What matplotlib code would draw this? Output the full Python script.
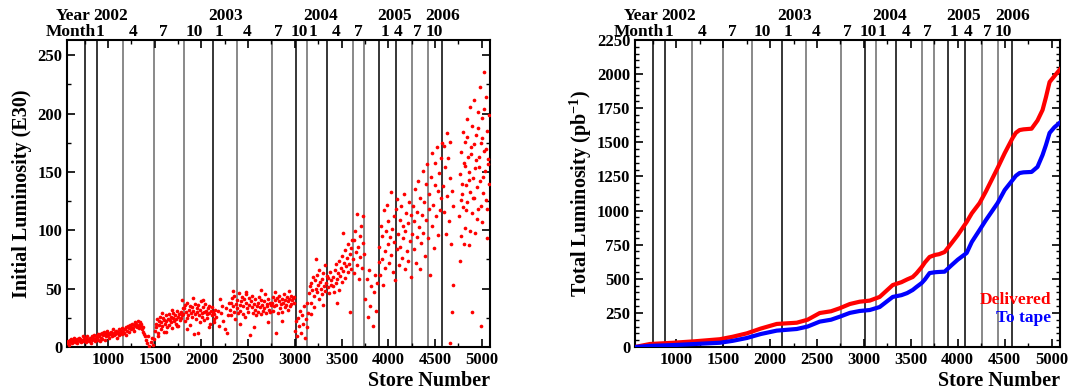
import numpy as np
import matplotlib.pyplot as plt
from matplotlib.ticker import MultipleLocator

plt.rcParams['font.family'] = 'Liberation Serif'
plt.rcParams['font.weight'] = 'bold'
plt.rcParams['mathtext.fontset'] = 'custom'
plt.rcParams['mathtext.rm'] = 'Liberation Serif:bold'
plt.rcParams['mathtext.it'] = 'Liberation Serif:bold'
plt.rcParams['mathtext.bf'] = 'Liberation Serif:bold'

# ---- initial luminosity per store ----
store = [
    565, 572, 580, 588, 596, 603, 611, 618, 626, 634, 641, 649, 657, 664, 672, 680, 687, 695, 703, 710, 718, 726,
    733, 741, 749, 756, 764, 772, 779, 787, 795, 802, 810, 818, 825, 833, 841, 848, 856, 864, 871, 879, 887, 894,
    902, 910, 917, 925, 932, 940, 948, 955, 963, 970, 978, 986, 993, 1001, 1008, 1016, 1024, 1031, 1039, 1046,
    1054, 1062, 1069, 1077, 1084, 1092, 1100, 1107, 1115, 1122, 1130, 1138, 1145, 1153, 1160, 1168,
    1175, 1182, 1190, 1197, 1205, 1212, 1220, 1228, 1235, 1243, 1250, 1258, 1265, 1273, 1281, 1288, 1296, 1303,
    1311, 1319, 1326, 1334, 1341, 1349, 1356, 1364, 1372, 1379, 1387, 1394,
    1405, 1418, 1430, 1442, 1455, 1467, 1478, 1490,
    1503, 1510, 1518, 1525, 1533, 1540, 1548, 1556, 1563, 1571, 1578, 1586, 1594, 1601, 1609, 1616, 1624, 1632,
    1639, 1647, 1654, 1662, 1670, 1677, 1685, 1692, 1700, 1708, 1715, 1723, 1730, 1738, 1746, 1753, 1761, 1768,
    1776, 1784, 1791, 1799,
    1805, 1812, 1820, 1827, 1835, 1842, 1850, 1858, 1865, 1873, 1880, 1888, 1895, 1903, 1911, 1918, 1926, 1933,
    1941, 1949, 1956, 1964, 1971, 1979, 1986, 1994, 2002, 2009, 2017, 2024, 2032, 2040, 2047, 2055, 2062, 2070,
    2078, 2085, 2093, 2100, 2108, 2116, 2123, 2131, 2139, 2146,
    2160, 2175, 2190, 2205, 2220, 2235, 2250, 2265, 2280, 2295,
    2305, 2313, 2321, 2329, 2337, 2345, 2353, 2361, 2369, 2377, 2385, 2393, 2401, 2409, 2417, 2425, 2433, 2441,
    2449, 2457, 2465, 2473, 2481, 2489, 2497, 2505, 2513, 2521, 2529, 2537, 2545, 2553, 2561, 2569, 2577, 2585,
    2593, 2601, 2609, 2617, 2625, 2633, 2641, 2649, 2657, 2665, 2673, 2681, 2689, 2697, 2705, 2713, 2721, 2729,
    2737, 2745,
    2755, 2763, 2771, 2779, 2787, 2795, 2803, 2811, 2819, 2827, 2835, 2843, 2851, 2859, 2867, 2875, 2883, 2891,
    2899, 2907, 2915, 2923, 2931, 2939, 2947, 2955, 2963, 2971, 2979, 2987, 2995,
    3005, 3015, 3025, 3035, 3045, 3055, 3065, 3075, 3085, 3095, 3105, 3115, 3125, 3135, 3145,
    3152, 3160, 3168, 3176, 3184, 3192, 3200, 3208, 3216, 3224, 3232, 3240, 3248, 3256, 3264, 3272, 3280, 3288,
    3296, 3304, 3312, 3320, 3328, 3336, 3344, 3352, 3360, 3368, 3376, 3384, 3392,
    3405, 3413, 3421, 3429, 3437, 3445, 3453, 3461, 3469, 3477, 3485, 3493, 3501, 3509, 3517, 3525, 3533, 3541,
    3549, 3557, 3565, 3573, 3581, 3589, 3597, 3605, 3613,
    3622, 3630, 3638, 3646, 3654, 3662, 3670, 3678, 3686, 3694, 3702, 3710, 3718, 3726, 3734, 3742,
    3755, 3768, 3781, 3794, 3807, 3820, 3833, 3846, 3859, 3872, 3885, 3898,
    3905, 3913, 3921, 3929, 3937, 3945, 3953, 3961, 3969, 3977, 3985, 3993, 4001, 4009, 4017, 4025, 4033, 4041,
    4049, 4057, 4065, 4073, 4081, 4089, 4097, 4105, 4113, 4121, 4129, 4137, 4145, 4153, 4161, 4169, 4177, 4185,
    4193, 4201, 4209, 4217, 4225, 4233, 4241, 4249,
    4257, 4265, 4273, 4281, 4289, 4297, 4305, 4313, 4321, 4329, 4337, 4345, 4353, 4361, 4369, 4377, 4385, 4393,
    4401, 4409, 4417, 4425, 4433, 4441, 4449, 4457, 4465, 4473, 4481, 4489, 4497, 4505, 4513, 4521, 4529, 4537,
    4545, 4553, 4561, 4569, 4577,
    4585, 4593, 4601, 4609, 4617, 4625, 4633, 4641, 4649, 4657, 4665, 4673, 4681, 4689, 4697, 4660, 4680, 4892, 4989,
    4762, 4769, 4776, 4783, 4790, 4797, 4804, 4811, 4818, 4825, 4832, 4839, 4846, 4853, 4860, 4867, 4874, 4881,
    4888, 4895, 4902, 4909, 4916, 4923, 4930, 4937, 4944, 4951, 4958, 4965, 4972, 4979, 4986, 4993, 5000, 5007,
    5014, 5021, 5028, 5035, 5042, 5049, 5056, 5063, 5070, 5077, 5084,
    4765, 4779, 4793, 4807, 4821, 4835, 4849, 4863, 4877, 4891, 4905, 4919, 4933, 4947, 4961, 4975, 4989, 5003,
    5017, 5031, 5045, 5059, 5073,
    1530, 1575, 1620, 1680, 1735, 1790, 1850, 1905, 1960, 2020, 2080, 2135, 2200, 2270, 2340, 2410, 2480, 2560,
    2640, 2710, 2790, 2860, 2940, 3170, 3230, 3300, 3450, 3520, 3590,
]
init_lumi = [
    3, 5, 2, 6, 4, 7, 5, 3, 6, 8, 4, 6, 5, 7, 3, 6, 8, 5, 7, 4, 6, 9,
    5, 7, 8, 6, 4, 7, 9, 6, 5, 8, 7, 3, 9, 6, 8, 10, 7, 5, 9, 8, 6, 11,
    9, 5, 11, 8, 12, 7, 10, 13, 6, 11, 9, 12, 14, 10, 8, 12, 11, 13, 9, 12,
    15, 10, 13, 11, 14, 8, 12, 13, 10, 15, 12, 14, 11, 16, 13, 15,
    12, 15, 10, 17, 14, 18, 13, 16, 19, 15, 17, 20, 16, 14, 19, 21, 18, 20,
    17, 22, 19, 16, 21, 18, 20, 15, 13, 17, 11, 9,
    6, 3, 9, 1, 4, 8, 2, 7,
    14, 20, 17, 24, 12, 22, 19, 26, 15, 21, 18, 25, 23, 13, 20, 27, 22, 17,
    24, 28, 19, 23, 26, 21, 16, 25, 29, 22, 27, 20, 24, 31, 26, 18, 28, 23,
    30, 25, 27, 33,
    28, 33, 22, 36, 30, 25, 38, 27, 32, 35, 19, 29, 34, 26, 31, 11, 37, 28,
    24, 33, 30, 36, 27, 21, 32, 39, 29, 26, 34, 30, 23, 37, 31, 28, 25, 33,
    35, 29, 20, 31, 27, 34, 30, 24, 28, 32,
    26, 31, 18, 29, 35, 22, 15, 33, 27, 38,
    32, 38, 27, 42, 35, 30, 44, 24, 37, 40, 33, 29, 46, 36, 31, 39, 43, 28,
    35, 41, 26, 38, 45, 33, 30, 42, 36, 10, 39, 34, 44, 29, 37, 32, 41, 27,
    35, 38, 30, 43, 34, 28, 40, 36, 31, 39, 33, 45, 29, 37, 35, 41, 32, 38,
    30, 36,
    38, 31, 43, 35, 40, 12, 36, 42, 29, 39, 44, 33, 37, 41, 30, 38, 45, 34,
    40, 36, 43, 32, 39, 41, 35, 44, 37, 40, 42, 38, 43,
    14, 22, 9, 25, 18, 31, 12, 27, 20, 35, 8, 24, 17, 38, 29,
    46, 52, 38, 55, 49, 60, 44, 34, 57, 50, 47, 62, 53, 41, 66, 56, 50, 45,
    58, 63, 52, 70, 48, 55, 61, 51, 59, 46, 64, 53, 57,
    52, 60, 47, 66, 55, 71, 58, 63, 49, 74, 61, 68, 56, 78, 65, 72, 59, 83,
    69, 76, 64, 88, 71, 80, 67, 85, 92,
    75, 92, 63, 99, 81, 70, 114, 86, 58, 95, 77, 104, 68, 89, 112, 80,
    41, 58, 26, 66, 35, 52, 18, 47, 62, 31, 55, 73,
    86, 62, 104, 75, 95, 53, 117, 82, 68, 99, 122, 88, 108, 72, 94, 133, 79, 101,
    64, 112, 90, 57, 118, 84, 127, 97, 70, 109, 86, 121, 76, 104, 93, 131, 67, 99,
    115, 82, 106, 74, 124, 91, 113, 60,
    97, 121, 84, 108, 135, 72, 116, 94, 142, 103, 67, 128, 89, 113, 151, 98, 124, 78,
    140, 109, 157, 93, 131, 118, 62, 146, 104, 166, 122, 85, 139, 158, 112, 171, 96, 134,
    149, 117, 162, 128, 175,
    138, 172, 116, 154, 97, 183, 129, 162, 108, 145, 176, 88, 134, 53, 121, 3, 30, 30, 18,
    112, 148, 95, 167, 131, 184, 120, 158, 102, 176, 139, 195, 124, 163, 87, 150, 206, 133,
    171, 115, 189, 145, 128, 212, 98, 160, 182, 137, 201, 118, 154, 223, 142, 175, 107, 196,
    132, 168, 236, 151, 214, 126, 185, 93, 161, 199, 140,
    74, 126, 140, 88, 155, 117, 180, 143, 99, 165, 128, 174, 153, 110, 188, 163, 121, 179,
    146, 204, 170, 118, 157,
    9, 29, 13, 32, 18, 40, 15, 42, 12, 40, 17, 21, 41, 12, 48, 20, 47, 17,
    49, 21, 47, 22, 48, 28, 75, 36, 38, 98, 30,
]

# ---- integrated luminosity (pb^-1) ----
cum_store = [560, 719, 964, 1200, 1464, 1600, 1752, 1900, 2071, 2284, 2400, 2529, 2650, 2742, 2850, 2955,
             3062, 3168, 3307, 3400, 3460, 3520, 3560, 3616, 3650, 3700, 3760, 3800, 3860, 3935, 4000,
             4095, 4150, 4233, 4300, 4380, 4425, 4500, 4585, 4620, 4659, 4700, 4787, 4850, 4904, 4940,
             4979, 5030, 5090]
delivered = [0, 22, 31, 42, 57, 75, 100, 135, 169, 178, 200, 249, 262, 284, 315, 332,
             340, 367, 454, 475, 495, 513, 540, 586, 620, 660, 675, 680, 696, 762, 820,
             916, 980, 1055, 1140, 1250, 1312, 1420, 1532, 1570, 1590, 1595, 1600, 1660, 1737, 1830,
             1942, 1985, 2035]
to_tape = [0, 8, 14, 22, 31, 45, 66, 95, 120, 132, 150, 186, 200, 222, 250, 264,
           271, 293, 367, 380, 395, 418, 440, 469, 495, 542, 548, 550, 552, 600, 640,
           689, 770, 858, 930, 1010, 1055, 1150, 1224, 1255, 1275, 1280, 1283, 1320, 1407, 1480,
           1569, 1610, 1645]

# ---- calendar markers ----
line_stores = [750, 885, 1165, 1495, 1812, 2127, 2385, 2752, 3011, 3129, 3345, 3620, 3743, 3898,
               4080, 4256, 4428, 4577]
line_colors = ['black', 'black', 'dimgray', 'dimgray', 'dimgray', 'black', 'dimgray', 'dimgray', 'black',
               'dimgray', 'black', 'dimgray', 'dimgray', 'black', 'black', 'dimgray', 'dimgray', 'black']
month_pos = [871, 1226, 1548, 1828, 2140, 2441, 2774, 2957, 3150, 3398, 3634, 3914, 4064, 4269, 4398]
month_txt = ['1', '4', '7', '10', '1', '4', '7', '10', '1', '4', '7', '1', '4', '7', '10']
year_pos = [839, 2075, 3086, 3882, 4398]
year_txt = ['2002', '2003', '2004', '2005', '2006']

fig = plt.figure(figsize=(10.73, 3.92), dpi=100)
ax1 = fig.add_axes([67 / 1073, 45 / 392, 423 / 1073, 307 / 392])
ax2 = fig.add_axes([635 / 1073, 45 / 392, 425 / 1073, 307 / 392])


def decorate(ax):
    for s, c in zip(line_stores, line_colors):
        ax.axvline(s, color=c, lw=1.1, zorder=1)
    tr = ax.get_xaxis_transform()
    for p, t in zip(month_pos, month_txt):
        ax.text(p, 1.013, t, transform=tr, ha='left', va='baseline', fontsize=12.5, fontweight='bold')
    for p, t in zip(year_pos, year_txt):
        ax.text(p, 1.066, t, transform=tr, ha='left', va='baseline', fontsize=12.5, fontweight='bold')
    ax.text(870, 1.013, 'Month', transform=tr, ha='right', va='baseline', fontsize=12.5, fontweight='bold')
    ax.text(815, 1.066, 'Year', transform=tr, ha='right', va='baseline', fontsize=12.5, fontweight='bold')
    ax.set_xlim(560, 5090)
    ax.xaxis.set_minor_locator(MultipleLocator(250))
    ax.set_xticks([1000, 1500, 2000, 2500, 3000, 3500, 4000, 4500, 5000])
    ax.tick_params(which='both', direction='in', top=True, right=True, labelsize=12)
    ax.tick_params(which='major', length=6, width=1.2)
    ax.tick_params(which='minor', length=3, width=1)
    for sp in ax.spines.values():
        sp.set_linewidth(1.5)
    ax.set_xlabel('Store Number', loc='right', fontsize=14.5, fontweight='bold', labelpad=2)


decorate(ax1)
ax1.scatter(store, init_lumi, s=7, c='red', linewidths=0, zorder=3)
ax1.set_ylim(0, 263)
ax1.yaxis.set_major_locator(MultipleLocator(50))
ax1.yaxis.set_minor_locator(MultipleLocator(25))
ax1.set_ylabel('Initial Luminosity (E30)', fontsize=14.5, fontweight='bold')

decorate(ax2)
ax2.plot(cum_store, delivered, color='red', lw=3, zorder=3)
ax2.plot(cum_store, to_tape, color='blue', lw=3, zorder=3)
ax2.set_ylim(0, 2250)
ax2.yaxis.set_major_locator(MultipleLocator(250))
ax2.yaxis.set_minor_locator(MultipleLocator(50))
ax2.set_ylabel(r'Total Luminosity (pb$^{-1}$)', fontsize=14.5, fontweight='bold', labelpad=2)
ax2.text(0.98, 0.153, 'Delivered', transform=ax2.transAxes, ha='right', va='center',
         color='red', fontsize=12.5, fontweight='bold')
ax2.text(0.98, 0.094, 'To tape', transform=ax2.transAxes, ha='right', va='center',
         color='blue', fontsize=12.5, fontweight='bold')

fig.savefig('out.png', dpi=100)
